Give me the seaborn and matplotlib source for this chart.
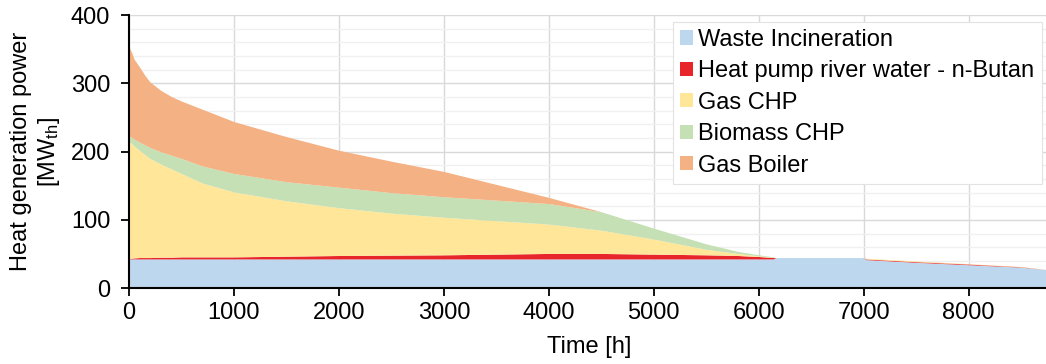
import matplotlib
matplotlib.use("Agg")
import matplotlib.pyplot as plt
import seaborn as sns
from matplotlib.ticker import MultipleLocator

# ---- data (sorted load-duration, MW_th) ----
hours = [0, 10, 25, 50, 100, 150, 200, 300, 400, 500, 700, 1000, 1500,
         2000, 2500, 3000, 3500, 4000, 4500, 5000, 5500, 5800, 6000, 6140,
         6160, 7000, 7020, 7500, 8000, 8500, 8760]
waste_incineration = [43, 43, 43, 43, 43, 43, 43, 43, 43, 43, 43, 43, 43,
                      43, 43, 43, 43, 43, 43, 43, 43, 43, 43, 43,
                      45, 45, 42, 38, 34.5, 31, 27]
heat_pump = [1, 1, 1, 1.5, 2, 2, 2, 2.5, 2.5, 3, 3, 3, 4,
             5, 5.5, 6, 7, 8, 8, 7, 6, 5, 3.5, 2,
             0, 0, 1, 1, 1, 0.5, 0]
gas_chp = [171, 170, 168, 163.5, 157, 151, 145, 136.5, 129.5, 122, 108, 95, 81,
           70, 61.5, 55, 49, 43, 34, 22, 8, 3, 1, 0.5,
           0, 0, 1, 1, 0.5, 0.5, 0]
biomass_chp = [8, 8, 9, 10, 12, 14, 16, 18, 20, 22, 25, 27, 28,
               30, 30, 30, 30, 30, 27, 16, 8, 3, 1.5, 0.5,
               0, 0, 0, 0, 0, 0, 0]
gas_boiler = [132, 128, 124, 117, 110, 102, 96, 90, 86, 84, 83, 76, 66,
              54, 46, 37, 23, 9, 0, 0, 0, 0, 0, 0,
              0, 0, 0, 0, 0, 0, 0]

series_labels = ["Waste Incineration", "Heat pump river water - n-Butan",
                 "Gas CHP", "Biomass CHP", "Gas Boiler"]
series_colors = ["#BDD7EE", "#E8252B", "#FFE699", "#C5E0B4", "#F4B183"]
x_ticks = [0, 1000, 2000, 3000, 4000, 5000, 6000, 7000, 8000]
y_ticks = [0, 100, 200, 300, 400]

sns.set_theme(style="whitegrid")
plt.rcParams["font.family"] = ["Liberation Sans", "DejaVu Sans"]
plt.rcParams["mathtext.fontset"] = "custom"
plt.rcParams["mathtext.rm"] = "Liberation Sans"
plt.rcParams["mathtext.it"] = "Liberation Sans"

W, H = 1046, 364
fig = plt.figure(figsize=(W / 100, H / 100), dpi=100)
fig.patch.set_facecolor("white")
x0, x1 = 129, 1048.5
y0, y1 = 288.3, 15
ax = fig.add_axes([x0 / W, (H - y0) / H, (x1 - x0) / W, (y0 - y1) / H])
ax.set_facecolor("white")

ax.stackplot(hours, waste_incineration, heat_pump, gas_chp, biomass_chp,
             gas_boiler, colors=series_colors, labels=series_labels,
             linewidth=0)

ax.set_xlim(0, 8760)
ax.set_ylim(0, 400)
ax.set_xticks(x_ticks)
ax.set_yticks(y_ticks)
ax.yaxis.set_minor_locator(MultipleLocator(20))
ax.set_axisbelow(True)
ax.grid(which="major", color="#D9D9D9", linewidth=1.0)
ax.grid(which="minor", axis="y", color="#F0F0F0", linewidth=1.0)
ax.grid(which="minor", axis="x", visible=False)

for side in ["top", "right"]:
    ax.spines[side].set_visible(False)
for side in ["left", "bottom"]:
    ax.spines[side].set_visible(True)
    ax.spines[side].set_color("black")
    ax.spines[side].set_linewidth(1.5)

ax.tick_params(which="major", direction="out", length=6, width=1.3,
               color="black", labelsize=17, labelcolor="black",
               bottom=True, left=True)
ax.tick_params(axis="x", which="major", pad=4)
ax.tick_params(axis="y", which="major", pad=7.5)
ax.tick_params(which="minor", length=0)

ax.set_xlabel("Time [h]", fontsize=17, color="black", labelpad=8.5)
fig.text(36 / W, (H - 151.5) / H,
         "Heat generation power\n[MW$_\\mathregular{th}$]",
         rotation=90, ha="center", va="center", fontsize=17,
         color="black", linespacing=1.2, multialignment="center")

leg = ax.legend(loc="upper right",
                bbox_to_anchor=(1041.7 / W, (H - 21.7) / H),
                bbox_transform=fig.transFigure, frameon=True,
                fancybox=False, edgecolor="#E3E3E3", framealpha=1,
                fontsize=17, handlelength=0.55, handleheight=0.55,
                handletextpad=0.25, labelspacing=0.4, borderpad=0.3,
                borderaxespad=0)
leg.get_frame().set_linewidth(0.8)
for t in leg.get_texts():
    t.set_color("black")

fig.savefig("out.png", dpi=100, facecolor="white")
